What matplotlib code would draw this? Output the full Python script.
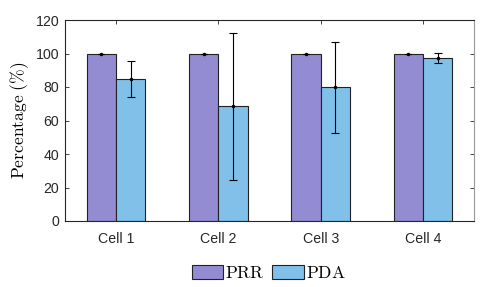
import matplotlib
matplotlib.use('Agg')
import matplotlib.pyplot as plt
import numpy as np

# data
cells = ['Cell 1', 'Cell 2', 'Cell 3', 'Cell 4']
prr = [100, 100, 100, 100]
prr_err = [0, 0, 0, 0]
pda = [85, 68.5, 80, 97.3]
pda_lo = [11, 43.8, 27.2, 2.8]
pda_hi = [10.8, 44, 27, 3.0]

plt.rcParams['mathtext.fontset'] = 'cm'
plt.rcParams['font.family'] = ['Liberation Sans', 'DejaVu Sans']

fig = plt.figure(figsize=(4.98, 2.87), dpi=100)
ax = fig.add_axes([65 / 498, 1 - 221 / 287, 409 / 498, 201 / 287])

x = np.arange(1, len(cells) + 1)
w = 0.287
c_prr = '#938cd2'
c_pda = '#80c0e9'

ax.bar(x - w / 2, prr, w, color=c_prr, edgecolor='#222222', linewidth=0.8, label='PRR', zorder=2)
ax.bar(x + w / 2, pda, w, color=c_pda, edgecolor='#222222', linewidth=0.8, label='PDA', zorder=2)
ax.errorbar(x - w / 2, prr, yerr=prr_err, fmt='.', color='black', ms=3,
            capsize=2, elinewidth=0.8, capthick=0.8, zorder=3)
ax.errorbar(x + w / 2, pda, yerr=[pda_lo, pda_hi], fmt='.', color='black', ms=3,
            capsize=2.9, elinewidth=0.8, capthick=0.8, zorder=3)

ax.set_xlim(0.5, 4.5)
ax.set_ylim(0, 120)
ax.set_xticks(x)
ax.set_xticklabels(cells)
ax.set_yticks(range(0, 121, 20))
ax.tick_params(direction='in', length=3, width=0.6, labelsize=10.2, colors='#262626',
               top=True, right=True, pad=4.3)
ax.tick_params(axis='x', pad=8)
for s in ax.spines.values():
    s.set_linewidth(0.8)
    s.set_color('#262626')
ax.spines['right'].set_color('#999999')

ax.set_ylabel(r'$\mathrm{Percentage\ (\%)}$', fontsize=12.6, labelpad=3)

fig.legend(handles=ax.containers[:2], labels=[r'$\mathrm{PRR}$', r'$\mathrm{PDA}$'],
           loc='center', bbox_to_anchor=(268.5 / 498, 1 - 273 / 287), ncol=2, frameon=False,
           fontsize=12.6, handlelength=1.8, handleheight=0.85, handletextpad=0.1,
           columnspacing=0.45)

fig.savefig('out.png', dpi=100)
